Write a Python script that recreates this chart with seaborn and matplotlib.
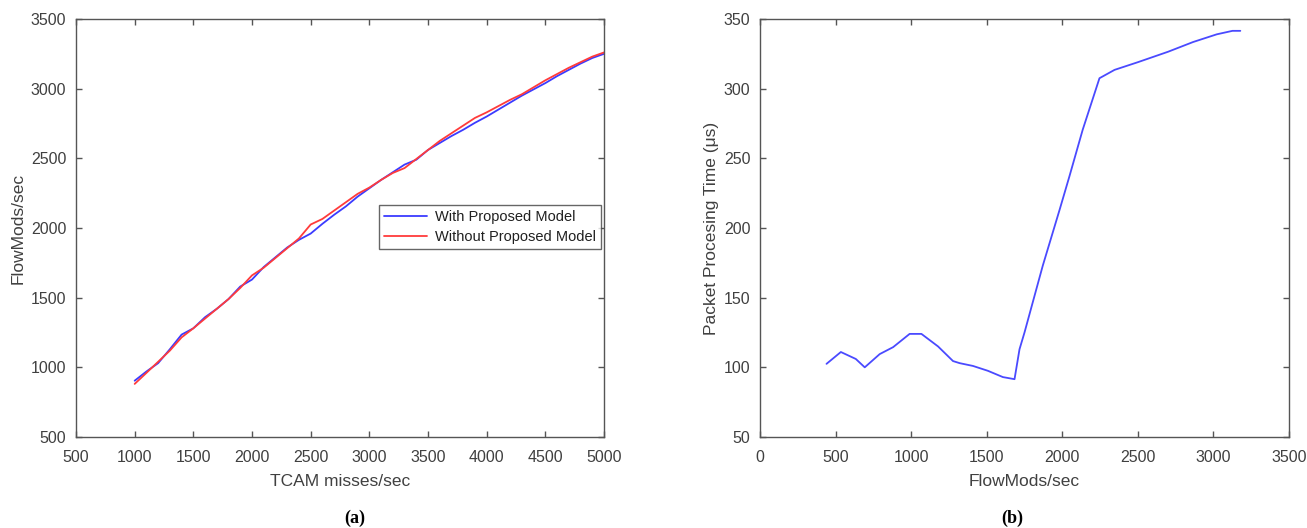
import matplotlib
matplotlib.use("Agg")
import matplotlib.pyplot as plt
import seaborn as sns
import pandas as pd

# ---- data (a) ----
tcam_misses = [1000, 1100, 1200, 1300, 1400, 1500, 1600, 1700, 1800, 1900, 2000,
               2100, 2200, 2300, 2400, 2500, 2600, 2700, 2800, 2900, 3000, 3100,
               3200, 3300, 3400, 3500, 3600, 3700, 3800, 3900, 4000, 4100, 4200,
               4300, 4400, 4500, 4600, 4700, 4800, 4900, 5000]
with_model = [904, 970, 1030, 1130, 1235, 1280, 1360, 1420, 1490, 1580, 1630,
              1720, 1790, 1860, 1915, 1960, 2030, 2095, 2155, 2225, 2285, 2345,
              2400, 2455, 2490, 2560, 2610, 2660, 2705, 2755, 2800, 2850, 2900,
              2950, 2995, 3040, 3090, 3135, 3180, 3220, 3250]
without_model = [881, 960, 1040, 1120, 1215, 1280, 1350, 1420, 1490, 1570, 1660,
                 1715, 1785, 1855, 1925, 2025, 2065, 2125, 2185, 2245, 2290, 2345,
                 2395, 2430, 2495, 2560, 2625, 2680, 2735, 2790, 2830, 2875, 2920,
                 2960, 3010, 3060, 3105, 3150, 3190, 3230, 3260]
series_names = ["With Proposed Model", "Without Proposed Model"]

# ---- data (b) ----
flowmods = [440, 535, 634, 693, 792, 881, 990, 1068, 1178, 1277, 1321, 1409,
            1508, 1607, 1684, 1717, 1750, 1871, 1982, 2047, 2135, 2246, 2346,
            2500, 2700, 2866, 3022, 3126, 3178]
proc_time = [102.5, 111, 106, 100, 109.5, 114.5, 124, 124, 115, 104.5, 103, 101,
             97.5, 93, 91.5, 113, 125, 173, 213, 237, 270.5, 307.5, 313.5,
             319, 326.5, 333.5, 339, 341.5, 341.5]

text_color = "#404040"
spine_color = "#555555"

sns.set_theme(style="white")
plt.rcParams["font.family"] = ["Liberation Sans", "DejaVu Sans"]
plt.rcParams["text.color"] = text_color
plt.rcParams["axes.labelcolor"] = text_color
plt.rcParams["xtick.color"] = spine_color
plt.rcParams["ytick.color"] = spine_color
plt.rcParams["xtick.labelcolor"] = text_color
plt.rcParams["ytick.labelcolor"] = text_color

fig = plt.figure(figsize=(13.07, 5.28), dpi=100)
W, H = 1307, 528
ax1 = fig.add_axes([76 / W, 1 - 437 / H, (604 - 76) / W, (437 - 19) / H])
ax2 = fig.add_axes([760 / W, 1 - 437 / H, (1289 - 760) / W, (437 - 19) / H])

df_a = pd.DataFrame({
    "x": tcam_misses * 2,
    "y": with_model + without_model,
    "series": [series_names[0]] * len(tcam_misses) + [series_names[1]] * len(tcam_misses),
})
sns.lineplot(data=df_a, x="x", y="y", hue="series", hue_order=series_names,
             palette=["#3b3bff", "#ff3b3b"], linewidth=1.3, ax=ax1,
             estimator=None, sort=False)

df_b = pd.DataFrame({"x": flowmods, "y": proc_time})
sns.lineplot(data=df_b, x="x", y="y", color="#4a4aff", linewidth=1.3, ax=ax2,
             estimator=None, sort=False)

ax1.set_xlim(500, 5000)
ax1.set_ylim(500, 3500)
ax1.set_xticks(range(500, 5001, 500))
ax1.set_yticks(range(500, 3501, 500))
ax1.set_xlabel("TCAM misses/sec", fontsize=12.5, labelpad=7)
ax1.set_ylabel("FlowMods/sec", fontsize=12.5, labelpad=4)

ax2.set_xlim(0, 3500)
ax2.set_ylim(50, 350)
ax2.set_xticks(range(0, 3501, 500))
ax2.set_yticks(range(50, 351, 50))
ax2.set_xlabel("FlowMods/sec", fontsize=12.5, labelpad=7)
ax2.set_ylabel("Packet Procesing Time (\u03bcs)", fontsize=12.5, labelpad=3)

for ax in (ax1, ax2):
    for s in ax.spines.values():
        s.set_visible(True)
        s.set_color(spine_color)
        s.set_linewidth(1.0)
    ax.tick_params(direction="in", length=4, width=1.0, top=True, right=True,
                   bottom=True, left=True, labelsize=11.5)
    ax.tick_params(axis="x", pad=9)
    ax.tick_params(axis="y", pad=7)
    ax.grid(False)

leg = ax1.legend(loc="upper left", bbox_to_anchor=(0.573, 0.555),
                 borderaxespad=0, fontsize=10.5, frameon=True, fancybox=False,
                 handlelength=3.0, handletextpad=0.5, borderpad=0.35,
                 labelspacing=0.4, title=None)
leg.get_frame().set_edgecolor("#404040")
leg.get_frame().set_linewidth(1.0)
for t in leg.get_texts():
    t.set_color("#202020")

fig.text(355 / W, 1 - 518 / H, "(a)", ha="center", va="center",
         fontsize=13, fontweight="bold", family="Liberation Serif", color="black")
fig.text(1012 / W, 1 - 518 / H, "(b)", ha="center", va="center",
         fontsize=13, fontweight="bold", family="Liberation Serif", color="black")

fig.savefig("out.png", dpi=100)
